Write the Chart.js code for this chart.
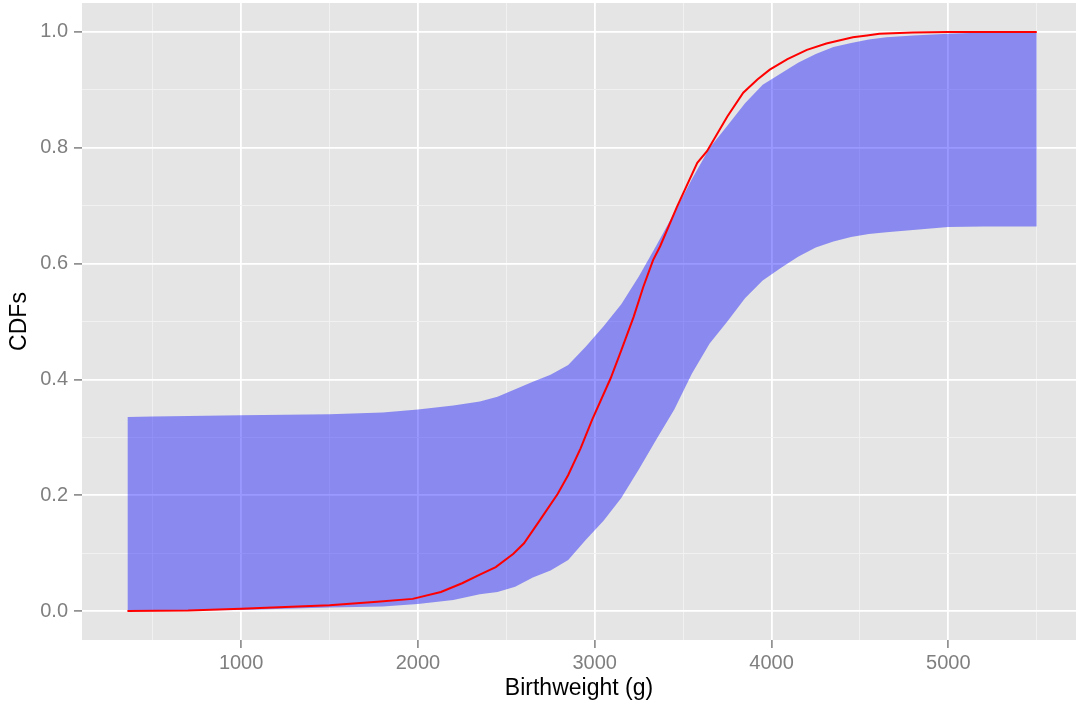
<!DOCTYPE html>
<html>
<head>
<meta charset="utf-8">
<script src="https://cdn.jsdelivr.net/npm/chart.js@4"></script>
<style>
html, body { margin: 0; padding: 0; background: #fff; }
</style>
</head>
<body>
<canvas id="cdfChart" width="1076" height="707"></canvas>
<script>
// birthweight grid of the band (g)
const bandWeights = [357, 500, 1000, 1500, 1800, 2000, 2200, 2350, 2450, 2550, 2650, 2750, 2850, 2950,
    3050, 3150, 3250, 3350, 3450, 3550, 3650, 3750, 3850, 3950, 4050, 4150, 4250, 4350, 4450, 4550,
    4650, 4800, 5000, 5200, 5500];
const bandLow = [0.000, 0.001, 0.002, 0.006, 0.008, 0.012, 0.019, 0.029, 0.033, 0.042, 0.058, 0.070, 0.088, 0.123,
    0.156, 0.195, 0.245, 0.297, 0.348, 0.410, 0.462, 0.500, 0.540, 0.571, 0.592, 0.612, 0.628, 0.638, 0.646, 0.651,
    0.654, 0.658, 0.663, 0.664, 0.664];
const bandHigh = [0.335, 0.336, 0.338, 0.340, 0.343, 0.348, 0.355, 0.362, 0.370, 0.383, 0.396, 0.408, 0.425, 0.457,
    0.492, 0.530, 0.578, 0.632, 0.688, 0.746, 0.800, 0.838, 0.877, 0.909, 0.928, 0.947, 0.962, 0.974, 0.981, 0.987,
    0.991, 0.994, 0.997, 0.999, 1.000];

// empirical cdf (red line)
const cdfWeights = [357, 700, 1000, 1250, 1500, 1770, 1970, 2130, 2250, 2350, 2440, 2540, 2600, 2690, 2790, 2850,
    2920, 2985, 3090, 3150, 3220, 3275, 3330, 3370, 3465, 3580, 3635, 3750, 3840, 3920, 3990, 4090, 4200, 4310,
    4460, 4540, 4610, 4800, 5000, 5500];
const cdfValues = [0.000, 0.001, 0.004, 0.007, 0.010, 0.016, 0.021, 0.033, 0.048, 0.063, 0.076, 0.099, 0.117, 0.157,
    0.202, 0.235, 0.281, 0.330, 0.402, 0.450, 0.508, 0.560, 0.606, 0.630, 0.698, 0.774, 0.794, 0.854, 0.895, 0.918,
    0.935, 0.953, 0.969, 0.980, 0.991, 0.994, 0.997, 0.999, 1.000, 1.000];

// ticks (major ones get labels)
const xTicks = [500, 1000, 1500, 2000, 2500, 3000, 3500, 4000, 4500, 5000, 5500];
const xLabels = [1000, 2000, 3000, 4000, 5000];
const yTicks = [0, 0.1, 0.2, 0.3, 0.4, 0.5, 0.6, 0.7, 0.8, 0.9, 1.0];
const yLabels = ['0.0', '0.2', '0.4', '0.6', '0.8', '1.0'];

const pts = (xs, ys) => xs.map((x, i) => ({ x: x, y: ys[i] }));

const isMajorX = (v) => xLabels.includes(v);
const isMajorY = (v) => Math.round(v * 10) % 2 === 0;

const panelBg = {
    id: 'panelBg',
    beforeDraw(chart) {
        const a = chart.chartArea;
        const ctx = chart.ctx;
        ctx.save();
        ctx.fillStyle = '#E5E5E5';
        ctx.fillRect(a.left, a.top, a.right - a.left, a.bottom - a.top);
        ctx.restore();
    }
};

const ctx = document.getElementById('cdfChart').getContext('2d');

new Chart(ctx, {
    type: 'line',
    data: {
        datasets: [
            {
                data: pts(cdfWeights, cdfValues),
                borderColor: '#FF0000',
                borderWidth: 2,
                pointRadius: 0,
                fill: false
            },
            {
                data: pts(bandWeights, bandLow),
                borderColor: 'rgba(0,0,0,0)',
                borderWidth: 0,
                pointRadius: 0,
                fill: false
            },
            {
                data: pts(bandWeights, bandHigh),
                borderColor: 'rgba(0,0,0,0)',
                borderWidth: 0,
                pointRadius: 0,
                backgroundColor: 'rgba(0,0,255,0.4)',
                fill: '-1'
            }
        ]
    },
    options: {
        responsive: false,
        animation: false,
        layout: { padding: { top: 3, right: 0, left: 0, bottom: 0 } },
        plugins: {
            legend: { display: false },
            tooltip: { enabled: false }
        },
        elements: { line: { tension: 0 } },
        scales: {
            x: {
                type: 'linear',
                min: 100,
                max: 5722,
                afterBuildTicks: (scale) => { scale.ticks = xTicks.map((v) => ({ value: v })); },
                afterFit: (scale) => {
                    scale.height = 67;
                    scale.paddingLeft = 0;
                    scale.paddingRight = 0;
                },
                border: { display: false },
                grid: {
                    color: (c) => isMajorX(c.tick.value) ? '#FFFFFF' : '#F2F2F2',
                    lineWidth: (c) => isMajorX(c.tick.value) ? 1.8 : 0.9,
                    tickColor: (c) => isMajorX(c.tick.value) ? '#7F7F7F' : 'rgba(0,0,0,0)',
                    tickLength: 8,
                    tickWidth: 1.5
                },
                ticks: {
                    autoSkip: false,
                    maxRotation: 0,
                    padding: 3,
                    color: '#7F7F7F',
                    font: { family: 'Liberation Sans', size: 20 },
                    callback: (v) => isMajorX(v) ? String(v) : ''
                },
                title: {
                    display: true,
                    text: 'Birthweight (g)',
                    color: '#000000',
                    font: { family: 'Liberation Sans', size: 23 },
                    padding: { top: 0, bottom: 5 }
                }
            },
            y: {
                type: 'linear',
                min: -0.05,
                max: 1.05,
                afterBuildTicks: (scale) => { scale.ticks = yTicks.map((v) => ({ value: v })); },
                afterFit: (scale) => {
                    scale.width = 82;
                    scale.paddingTop = 0;
                    scale.paddingBottom = 0;
                },
                border: { display: false },
                grid: {
                    color: (c) => isMajorY(c.tick.value) ? '#FFFFFF' : '#F2F2F2',
                    lineWidth: (c) => isMajorY(c.tick.value) ? 1.8 : 0.9,
                    tickColor: (c) => isMajorY(c.tick.value) ? '#7F7F7F' : 'rgba(0,0,0,0)',
                    tickLength: 8,
                    tickWidth: 1.5
                },
                ticks: {
                    autoSkip: false,
                    padding: 6,
                    color: '#7F7F7F',
                    font: { family: 'Liberation Sans', size: 20 },
                    callback: (v) => isMajorY(v) ? yLabels[Math.round(v * 5)] : ''
                },
                title: {
                    display: true,
                    text: 'CDFs',
                    color: '#000000',
                    font: { family: 'Liberation Sans', size: 23 },
                    padding: { top: 6, bottom: 0 }
                }
            }
        }
    },
    plugins: [panelBg]
});
</script>
</body>
</html>
